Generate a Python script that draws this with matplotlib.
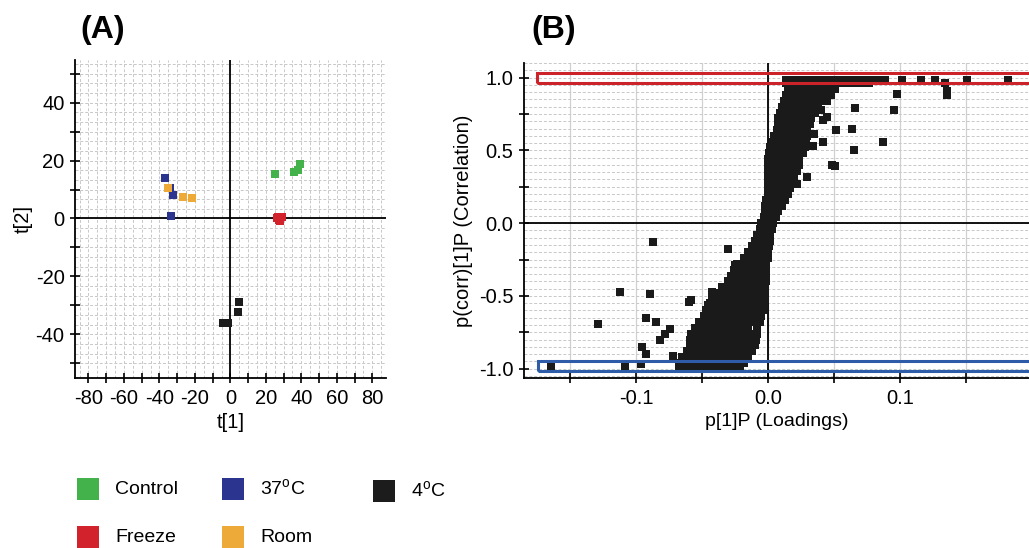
import numpy as np
import matplotlib
matplotlib.use("Agg")
import matplotlib.pyplot as plt
from matplotlib.patches import Rectangle
from matplotlib.ticker import FixedLocator

plt.rcParams["font.family"] = ["Liberation Sans", "DejaVu Sans"]
plt.rcParams["mathtext.fontset"] = "custom"
plt.rcParams["mathtext.rm"] = "Liberation Sans"
plt.rcParams["axes.unicode_minus"] = False

# ------------------------------------------------------------------
# (A) score plot t[1] / t[2] per storage group
# ------------------------------------------------------------------
control_t1 = [25.3, 35.6, 38.1, 39.4]
control_t2 = [15.5, 15.9, 16.9, 18.7]
freeze_t1 = [26.2, 27.5, 29.0, 27.0, 28.2]
freeze_t2 = [0.1, -0.6, 0.4, 0.6, -1.0]
h37_t1 = [-37.1, -34.0, -32.2, -33.5]
h37_t2 = [13.8, 10.4, 8.0, 0.7]
room_t1 = [-35.0, -26.6, -21.5]
room_t2 = [10.6, 7.4, 6.9]
c4_t1 = [5.1, 4.2, -4.0, -1.1]
c4_t2 = [-28.8, -32.4, -36.0, -36.0]

colors = {
    "Control": "#43b24a",
    "37": "#2b3590",
    "4": "#1c1c1c",
    "Freeze": "#d2232c",
    "Room": "#eeaa38",
}

# ------------------------------------------------------------------
# (B) S-plot: loadings p[1]P vs correlation p(corr)[1]P
# main cloud stored row by row (corr level, loadings on that level)
# ------------------------------------------------------------------
cloud_rows = [
    (0.985, [0.014, 0.019, 0.024, 0.029, 0.034, 0.039, 0.044, 0.049, 0.054, 0.059, 0.064, 0.069, 0.074, 0.079, 0.085]),
    (0.96, [0.014, 0.019, 0.024, 0.029, 0.034, 0.039, 0.044, 0.049, 0.054, 0.059, 0.064, 0.069, 0.074, 0.077]),
    (0.92, [0.015, 0.020, 0.025, 0.030, 0.035, 0.040, 0.045, 0.051]),
    (0.88, [0.014, 0.019, 0.024, 0.029, 0.034, 0.039, 0.044, 0.048]),
    (0.84, [0.012, 0.017, 0.022, 0.027, 0.032, 0.037, 0.041, 0.045]),
    (0.80, [0.011, 0.016, 0.021, 0.026, 0.031, 0.035, 0.038]),
    (0.76, [0.009, 0.014, 0.019, 0.024, 0.029, 0.033, 0.036]),
    (0.72, [0.008, 0.013, 0.018, 0.023, 0.028, 0.033]),
    (0.68, [0.008, 0.013, 0.018, 0.023, 0.028, 0.032]),
    (0.64, [0.007, 0.012, 0.017, 0.022, 0.026, 0.030]),
    (0.60, [0.005, 0.010, 0.015, 0.020, 0.025, 0.030]),
    (0.56, [0.004, 0.009, 0.014, 0.019, 0.024, 0.029]),
    (0.52, [0.002, 0.007, 0.012, 0.017, 0.022, 0.028]),
    (0.48, [0.001, 0.006, 0.011, 0.016, 0.021, 0.027]),
    (0.44, [0.000, 0.005, 0.010, 0.015, 0.020, 0.024]),
    (0.40, [0.000, 0.005, 0.010, 0.015, 0.020, 0.024]),
    (0.36, [0.000, 0.005, 0.010, 0.015, 0.019, 0.022]),
    (0.32, [0.000, 0.005, 0.010, 0.015, 0.020]),
    (0.28, [0.000, 0.005, 0.010, 0.014, 0.018]),
    (0.24, [0.000, 0.005, 0.010, 0.014, 0.017]),
    (0.20, [0.000, 0.005, 0.010, 0.015]),
    (0.16, [-0.001, 0.004, 0.009, 0.013]),
    (0.12, [-0.002, 0.003, 0.007, 0.011]),
    (0.08, [-0.002, 0.003, 0.008]),
    (0.04, [-0.003, 0.001, 0.006]),
    (0.00, [-0.005, 0.000, 0.004]),
    (-0.04, [-0.006, -0.001, 0.003]),
    (-0.08, [-0.008, -0.003, 0.002]),
    (-0.12, [-0.010, -0.005, 0.000, 0.002]),
    (-0.16, [-0.012, -0.007, -0.002, 0.001]),
    (-0.20, [-0.015, -0.010, -0.005, 0.000]),
    (-0.24, [-0.018, -0.013, -0.008, -0.003, 0.000]),
    (-0.28, [-0.023, -0.018, -0.013, -0.008, -0.003, -0.001]),
    (-0.32, [-0.026, -0.021, -0.016, -0.011, -0.006, -0.001]),
    (-0.36, [-0.028, -0.023, -0.018, -0.013, -0.008, -0.003, -0.001]),
    (-0.40, [-0.030, -0.025, -0.020, -0.015, -0.010, -0.005, -0.001]),
    (-0.44, [-0.035, -0.030, -0.025, -0.020, -0.015, -0.010, -0.005, -0.002]),
    (-0.48, [-0.040, -0.035, -0.030, -0.025, -0.020, -0.015, -0.010, -0.005, -0.002]),
    (-0.52, [-0.042, -0.037, -0.032, -0.027, -0.022, -0.017, -0.012, -0.007, -0.002]),
    (-0.56, [-0.045, -0.040, -0.035, -0.030, -0.025, -0.020, -0.015, -0.010, -0.005, -0.003]),
    (-0.60, [-0.047, -0.042, -0.037, -0.032, -0.027, -0.022, -0.017, -0.012, -0.007, -0.004]),
    (-0.64, [-0.048, -0.043, -0.038, -0.033, -0.028, -0.023, -0.018, -0.013, -0.008, -0.005]),
    (-0.68, [-0.052, -0.047, -0.042, -0.037, -0.032, -0.027, -0.022, -0.017, -0.012, -0.006]),
    (-0.72, [-0.055, -0.050, -0.045, -0.040, -0.035, -0.030, -0.025, -0.020, -0.015, -0.008]),
    (-0.76, [-0.058, -0.053, -0.048, -0.043, -0.038, -0.033, -0.028, -0.023, -0.018, -0.013, -0.008]),
    (-0.80, [-0.059, -0.054, -0.049, -0.044, -0.039, -0.034, -0.029, -0.024, -0.019, -0.014, -0.009]),
    (-0.84, [-0.059, -0.054, -0.049, -0.044, -0.039, -0.034, -0.029, -0.024, -0.019, -0.014, -0.010]),
    (-0.88, [-0.061, -0.056, -0.051, -0.046, -0.041, -0.036, -0.031, -0.026, -0.021, -0.016, -0.012]),
    (-0.92, [-0.065, -0.060, -0.055, -0.050, -0.045, -0.040, -0.035, -0.030, -0.025, -0.020, -0.015]),
    (-0.96, [-0.067, -0.062, -0.057, -0.052, -0.047, -0.042, -0.037, -0.032, -0.027, -0.022, -0.018]),
    (-0.99, [-0.067, -0.062, -0.057, -0.052, -0.047, -0.042, -0.037, -0.032, -0.027, -0.021]),
]

# scattered variables away from the main cloud
outlier_p = [0.089, 0.102, 0.116, 0.127, 0.151, 0.182, 0.134, 0.136, 0.136,
             0.098, 0.096, 0.066, 0.045, 0.040, 0.045, 0.042, 0.052, 0.064,
             0.035, 0.042, 0.034, 0.065, 0.087, 0.004, 0.051, 0.049, 0.030, 0.022,
             -0.030, -0.025, -0.029, -0.087, -0.112, -0.089, -0.058, -0.060,
             -0.044, -0.042, -0.129, -0.092, -0.085, -0.082, -0.095, -0.092,
             -0.164, -0.108, -0.096, -0.074, -0.078, -0.072]
outlier_corr = [0.985, 0.985, 0.985, 0.985, 0.98, 0.985, 0.96, 0.91, 0.88,
                0.89, 0.78, 0.79, 0.86, 0.78, 0.73, 0.71, 0.64, 0.65,
                0.61, 0.56, 0.53, 0.50, 0.56, 0.49, 0.39, 0.40, 0.32, 0.27,
                -0.18, -0.29, -0.40, -0.13, -0.47, -0.49, -0.53, -0.54,
                -0.55, -0.47, -0.69, -0.65, -0.68, -0.80, -0.85, -0.90,
                -0.98, -0.98, -0.97, -0.73, -0.76, -0.91]

cloud_p = [p for corr, row in cloud_rows for p in row]
cloud_corr = [corr for corr, row in cloud_rows for p in row]

fig = plt.figure(figsize=(10.29, 5.48), dpi=100)
FS = 14.5
grid_col = "#c8c8c8"

# ------------------------------------------------------------------
# Panel A
# ------------------------------------------------------------------
axA = fig.add_axes([0.0729, 0.310, 0.302, 0.580])
axA.set_xlim(-87.6, 87.6)
axA.set_ylim(-55.1, 54.6)

for x in np.arange(-85, 90, 5):
    axA.axvline(x, color=grid_col, lw=0.7, ls=(0, (3, 2)), zorder=0)
for y in np.arange(-50, 54, 10 / 3):
    axA.axhline(y, color=grid_col, lw=0.7, ls=(0, (3, 2)), zorder=0)
axA.axhline(0, color="black", lw=1.3, zorder=1)
axA.axvline(0, color="black", lw=1.3, zorder=1)

size_a = 34
axA.scatter(h37_t1, h37_t2, marker="s", s=size_a, color=colors["37"], lw=0, zorder=3)
axA.scatter(room_t1, room_t2, marker="s", s=size_a, color=colors["Room"], lw=0, zorder=3)
axA.scatter(control_t1, control_t2, marker="s", s=size_a, color=colors["Control"], lw=0, zorder=3)
axA.scatter(freeze_t1, freeze_t2, marker="s", s=size_a, color=colors["Freeze"], lw=0, zorder=3)
axA.scatter(c4_t1, c4_t2, marker="s", s=size_a, color=colors["4"], lw=0, zorder=3)

axA.xaxis.set_major_locator(FixedLocator(np.arange(-80, 81, 20)))
axA.xaxis.set_minor_locator(FixedLocator(np.arange(-80, 81, 10)))
axA.yaxis.set_major_locator(FixedLocator(np.arange(-40, 41, 20)))
axA.yaxis.set_minor_locator(FixedLocator(np.arange(-50, 51, 10)))
axA.tick_params(which="both", direction="inout", length=7, width=1.2, labelsize=FS, pad=4)
for s in ["top", "right"]:
    axA.spines[s].set_visible(False)
for s in ["left", "bottom"]:
    axA.spines[s].set_linewidth(1.3)
axA.set_xlabel("t[1]", fontsize=FS, labelpad=4)
axA.set_ylabel("t[2]", fontsize=FS, labelpad=2)

# ------------------------------------------------------------------
# Panel B
# ------------------------------------------------------------------
axB = fig.add_axes([0.509, 0.310, 0.491, 0.575])
axB.set_xlim(-0.185, 0.198)
axB.set_ylim(-1.065, 1.10)

for x in np.arange(-0.15, 0.2, 0.05):
    axB.axvline(x, color="#d0d0d0", lw=0.9, zorder=0)
for y in np.arange(-1.05, 1.1, 0.05):
    axB.axhline(y, color=grid_col, lw=0.7, ls=(0, (3, 2)), zorder=0)
axB.axhline(0, color="black", lw=1.3, zorder=1)
axB.axvline(0, color="black", lw=1.3, zorder=1)

size_b = 30
axB.scatter(cloud_p, cloud_corr, marker="s", s=size_b, color="#1a1a1a", lw=0, zorder=3)
axB.scatter(outlier_p, outlier_corr, marker="s", s=size_b, color="#1a1a1a", lw=0, zorder=3)

# highlighted bands of strongly correlated variables
axB.add_patch(Rectangle((-0.175, 0.962), 0.5, 0.068, fill=False,
                        edgecolor="#cc2229", lw=2.2, zorder=4, clip_on=True))
axB.add_patch(Rectangle((-0.174, -1.017), 0.5, 0.069, fill=False,
                        edgecolor="#2f5ca8", lw=2.2, zorder=4, clip_on=True))

axB.xaxis.set_major_locator(FixedLocator([-0.1, 0.0, 0.1]))
axB.xaxis.set_minor_locator(FixedLocator([-0.15, -0.05, 0.05, 0.15]))
axB.yaxis.set_major_locator(FixedLocator([-1.0, -0.5, 0.0, 0.5, 1.0]))
axB.yaxis.set_minor_locator(FixedLocator([-0.75, -0.25, 0.25, 0.75]))
axB.xaxis.set_major_formatter(plt.FuncFormatter(lambda v, _: f"{v:.1f}"))
axB.yaxis.set_major_formatter(plt.FuncFormatter(lambda v, _: f"{v:.1f}"))
axB.tick_params(which="both", direction="inout", length=7, width=1.2, labelsize=FS, pad=4)
for s in ["top", "right"]:
    axB.spines[s].set_visible(False)
for s in ["left", "bottom"]:
    axB.spines[s].set_linewidth(1.3)
axB.set_xlabel("p[1]P (Loadings)", fontsize=14, labelpad=4)
axB.set_ylabel("p(corr)[1]P (Correlation)", fontsize=FS, labelpad=4)

# panel letters
fig.text(0.078, 0.945, "(A)", fontsize=23, fontweight="bold", va="center")
fig.text(0.516, 0.945, "(B)", fontsize=23, fontweight="bold", va="center")

# ------------------------------------------------------------------
# Group legend below panel A
# ------------------------------------------------------------------
legend_items = [
    ("Control", colors["Control"], 77, 489),
    ("37$^{\\mathrm{o}}$C", colors["37"], 222, 489),
    ("4$^{\\mathrm{o}}$C", colors["4"], 373, 491),
    ("Freeze", colors["Freeze"], 77, 537),
    ("Room", colors["Room"], 222, 537),
]
W, H = 1029, 548
for label, col, px, py in legend_items:
    fig.add_artist(Rectangle((px / W, 1 - (py + 11) / H), 22 / W, 22 / H,
                             transform=fig.transFigure, color=col, lw=0))
    fig.text((px + 38) / W, 1 - py / H, label, fontsize=14, va="center")

fig.savefig("out.png", dpi=100)
